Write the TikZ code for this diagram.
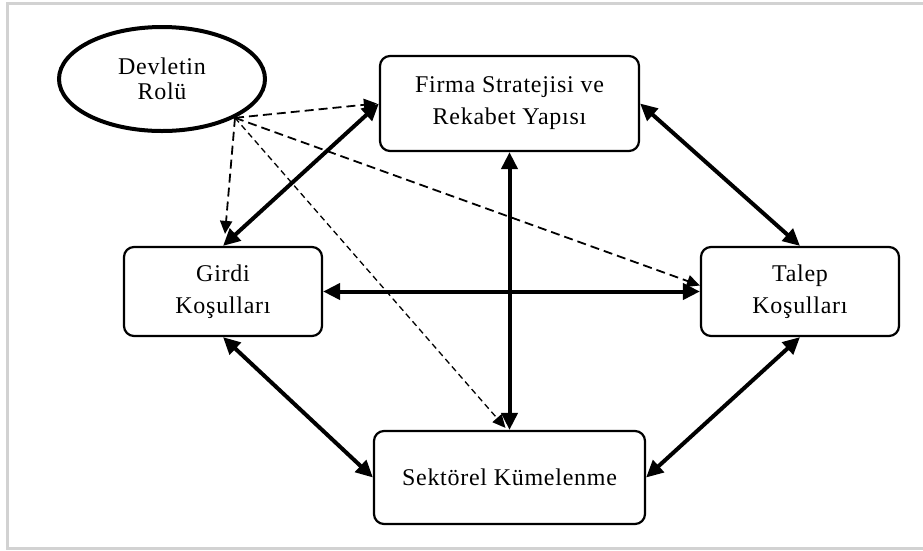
\documentclass[tikz,border=0pt]{standalone}
\usepackage{fontspec}
\setmainfont{Liberation Serif}[LetterSpace=3]
\usetikzlibrary{shapes.geometric, arrows.meta, positioning}
\tikzset{
    mybox/.style = {
        rectangle,
        rounded corners=10pt,
        draw=black,
        line width=2.2pt,
        align=center,
        font=\fontsize{24}{32}\selectfont
    },
    myellipse/.style = {
        ellipse,
        draw=black,
        line width=4pt,
        minimum width=206pt,
        minimum height=104pt,
        align=center,
        font=\fontsize{24}{25}\selectfont
    },
    myarrow/.style = {
        line width=4pt,
        {Triangle[length=17pt,width=16pt]}-{Triangle[length=17pt,width=16pt]}
    },
    mydashed/.style = {
        line width=1.8pt,
        dash pattern=on 9pt off 5pt,
        -{Triangle[length=13pt,width=12pt]}
    }
}

\begin{document}
\begin{tikzpicture}[x=1pt, y=-1pt]

\useasboundingbox (0,0) rectangle (923,550);
\draw [gray!35, line width=3pt] (930,3) -| (7,548) -- (930,548);

% Dugumler
\node (rol) [myellipse] at (162,79) {Devletin\\Rolü};
\node (firma) [mybox, minimum width=259pt, minimum height=95pt] at (509.5,103.5) {Firma Stratejisi ve\\Rekabet Yapısı};
\node (girdi) [mybox, minimum width=198pt, minimum height=89pt] at (223,291.5) {Girdi\\Koşulları};
\node (talep) [mybox, minimum width=198pt, minimum height=89pt] at (800,291.5) {Talep\\Koşulları};
\node (sektor) [mybox, minimum width=271pt, minimum height=93pt] at (509.5,477.5) {Sektörel Kümelenme};

% Karsilikli etkilesim
\draw [myarrow] (girdi.north) -- (firma.west);
\draw [myarrow] (firma.east) -- (talep.north);
\draw [myarrow] (girdi.south) -- (sektor.west);
\draw [myarrow] (talep.south) -- (sektor.east);
\draw [myarrow] (girdi.east) -- (talep.west);
\draw [myarrow] (firma.south) -- (sektor.north);

% Devletin etkisi
\coordinate (rolout) at (rol.-28);
\draw [mydashed] (rolout) -- ([xshift=-2pt]firma.west);
\draw [mydashed] (rolout) -- ([xshift=2pt,yshift=12pt]girdi.north);
\draw [mydashed] (rolout) -- ([yshift=6pt]talep.west);
\draw [mydashed, line width=1.3pt, dash pattern=on 6pt off 4pt] (rolout) -- ([xshift=-4pt,yshift=2pt]sektor.north);

\end{tikzpicture}
\end{document}
